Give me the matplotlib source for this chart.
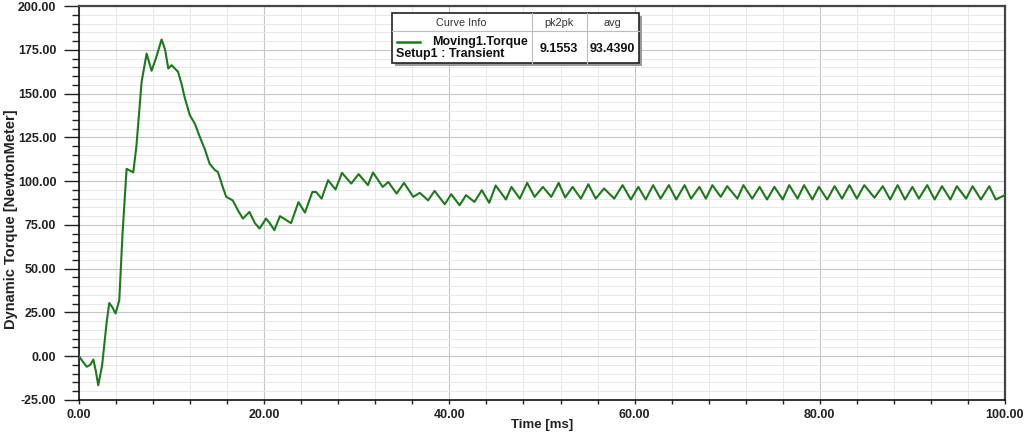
import matplotlib
matplotlib.use("Agg")
import matplotlib.pyplot as plt
from matplotlib.ticker import MultipleLocator, FormatStrFormatter
from matplotlib.patches import Rectangle

plt.rcParams['font.family'] = ['Liberation Sans', 'DejaVu Sans']

# ---- data ----
time_ms = [0.0, 0.4, 0.83, 1.2, 1.55, 1.8, 2.08, 2.5, 3.0, 3.27, 3.6, 3.95, 4.35, 4.7,
           5.14, 5.5, 5.86, 6.2, 6.76, 7.3, 7.84, 8.3, 8.92, 9.3, 9.64, 10.0, 10.7,
           11.1, 11.4, 11.97, 12.5, 13.05, 13.6, 14.1, 14.7, 15.0, 15.5, 15.9, 16.6,
           17.2, 17.7, 18.4, 19.0, 19.5, 20.2, 20.6, 21.1, 21.7, 22.9, 23.7, 24.4,
           25.2, 25.6, 26.2, 26.9, 27.7, 28.4, 29.4, 30.2, 31.2, 31.75, 32.8, 33.4,
           34.3, 35.1, 36.1, 36.8, 37.7, 38.4, 39.5, 40.2, 41.1, 41.8, 42.7, 43.5,
           44.3, 45.0, 46.1, 46.7, 47.6, 48.4, 49.2, 50.1, 51.0, 51.8, 52.5, 53.3,
           54.2, 55.0, 55.8, 56.7, 57.8, 58.7, 59.6, 60.4, 61.2, 62.0, 62.8, 63.7,
           64.5, 65.4, 66.1, 67.0, 67.7, 68.4, 69.3, 70.0, 71.1, 71.75, 72.7, 73.5,
           74.3, 75.1, 76.0, 76.7, 77.6, 78.3, 79.2, 79.9, 80.8, 81.6, 82.4, 83.2,
           84.0, 84.8, 85.9, 86.8, 87.6, 88.4, 89.2, 90.0, 90.7, 91.6, 92.4, 93.2,
           94.1, 94.8, 95.8, 96.5, 97.4, 98.3, 99.0, 100.0]
torque_nm = [0.0, -3.0, -6.0, -5.0, -1.9, -8.0, -16.6, -5.0, 20.0, 30.4, 28.0, 24.4, 32.0, 70.0,
             107.0, 106.0, 105.0, 120.0, 156.6, 172.8, 163.0, 170.0, 180.9, 175.0, 164.3, 166.2, 162.4,
             155.0, 148.0, 137.6, 132.9, 125.2, 118.0, 110.0, 106.2, 105.3, 97.0, 91.0, 89.0,
             83.0, 78.6, 82.4, 76.0, 72.9, 78.6, 76.0, 72.0, 80.0, 76.0, 88.0, 82.0,
             93.8, 93.8, 90.0, 100.5, 95.2, 104.7, 98.6, 104.0, 97.7, 104.9, 96.7, 99.5,
             92.9, 99.0, 91.0, 93.3, 89.0, 94.4, 86.8, 92.5, 86.2, 92.0, 88.1, 94.8,
             87.6, 97.5, 89.5, 96.7, 90.0, 99.0, 91.0, 96.7, 91.0, 99.0, 90.6, 96.7,
             90.0, 98.2, 90.0, 95.8, 90.0, 97.7, 89.5, 96.7, 89.5, 97.7, 90.0, 97.7,
             89.5, 97.7, 90.0, 96.7, 90.0, 97.7, 91.0, 97.1, 90.0, 97.7, 90.0, 96.7,
             89.5, 96.7, 89.5, 97.7, 90.0, 97.7, 89.5, 96.7, 89.5, 97.1, 90.0, 97.7,
             90.0, 97.7, 90.5, 97.1, 89.5, 97.7, 89.5, 96.7, 90.0, 97.7, 89.5, 97.1,
             89.5, 97.1, 90.0, 97.1, 89.5, 97.1, 89.5, 92.0]

series_name = "Moving1.Torque"
series_setup = "Setup1 : Transient"
table_headers = ["Curve Info", "pk2pk", "avg"]
table_values = ["9.1553", "93.4390"]

x_label = "Time [ms]"
y_label = "Dynamic Torque [NewtonMeter]"

W, H = 1024, 437
fig = plt.figure(figsize=(W / 100, H / 100), dpi=100)
fig.patch.set_facecolor('white')

L, R, T, B = 79, 1005, 6, 400
ax = fig.add_axes([L / W, 1 - B / H, (R - L) / W, (B - T) / H])

line_color = '#1c7a1c'
ax.plot(time_ms, torque_nm, color=line_color, lw=1.5, zorder=3)

ax.set_xlim(0, 100)
ax.set_ylim(-25, 200)
ax.xaxis.set_major_locator(MultipleLocator(20))
ax.xaxis.set_minor_locator(MultipleLocator(4))
ax.yaxis.set_major_locator(MultipleLocator(25))
ax.yaxis.set_minor_locator(MultipleLocator(5))
ax.xaxis.set_major_formatter(FormatStrFormatter('%.2f'))
ax.yaxis.set_major_formatter(FormatStrFormatter('%.2f'))

ax.grid(which='major', color='#c6c6c6', lw=0.8, zorder=0)
ax.grid(which='minor', color='#e8e8e8', lw=0.7, zorder=0)
ax.set_axisbelow(True)

ax.tick_params(axis='y', which='major', length=10.8, width=1.0, pad=5.5, direction='out',
               labelsize=9, color='#222222')
ax.tick_params(axis='y', which='minor', length=5, width=1.0, direction='out', color='#222222')
ax.tick_params(axis='x', which='major', length=3, width=1.0, pad=3.5, direction='out',
               labelsize=9, color='#222222')
ax.tick_params(axis='x', which='minor', length=3, width=1.0, direction='out', color='#222222')
for lab in ax.get_xticklabels() + ax.get_yticklabels():
    lab.set_fontweight('bold')
    lab.set_color('#222222')

for s in ['left', 'bottom']:
    ax.spines[s].set_color('#111111')
    ax.spines[s].set_linewidth(1.2)
for s in ['top', 'right']:
    ax.spines[s].set_color('#444444')
    ax.spines[s].set_linewidth(1.6)

ax.set_xlabel(x_label, fontsize=9.5, fontweight='bold', color='#222222')
ax.xaxis.set_label_coords(0.5, (B - 419) / (B - T))
ax.set_ylabel(y_label, fontsize=10.5, fontweight='bold', color='#222222')
ax.yaxis.set_label_coords((18 - L) / (R - L), (B - 219) / (B - T))

# ---- overlay for the info table (pixel coords) ----
ov = fig.add_axes([0, 0, 1, 1], zorder=10)
ov.set_xlim(0, W)
ov.set_ylim(H, 0)
ov.axis('off')

bx0, by0, bx1, by1 = 392, 13, 639, 63
ov.add_patch(Rectangle((bx0 + 3, by0 + 3), bx1 - bx0, by1 - by0, facecolor='#9a9a9a',
                       edgecolor='none'))
ov.add_patch(Rectangle((bx0, by0), bx1 - bx0, by1 - by0, facecolor='white',
                       edgecolor='#222222', lw=1.2))
ov.plot([bx0, bx1], [30.5, 30.5], color='#bdbdbd', lw=0.8)
ov.plot([531.5, 531.5], [by0, by1], color='#bdbdbd', lw=0.8)
ov.plot([586.5, 586.5], [by0, by1], color='#bdbdbd', lw=0.8)

ov.text(461.5, 22.5, table_headers[0], ha='center', va='center', fontsize=7.8, color='#333333')
ov.text(559, 22.5, table_headers[1], ha='center', va='center', fontsize=7.8, color='#333333')
ov.text(612.5, 22.5, table_headers[2], ha='center', va='center', fontsize=7.8, color='#333333')

ov.plot([397, 420], [41.5, 41.5], color=line_color, lw=1.8)
ov.text(528, 41.5, series_name, ha='right', va='center', fontsize=9, fontweight='bold',
        color='#111111')
ov.text(396, 54.5, series_setup, ha='left', va='center', fontsize=9, fontweight='bold',
        color='#111111')
ov.text(559, 48.5, table_values[0], ha='center', va='center', fontsize=9, fontweight='bold',
        color='#111111')
ov.text(612.5, 48.5, table_values[1], ha='center', va='center', fontsize=9, fontweight='bold',
        color='#111111')

fig.savefig('out.png', dpi=100, facecolor='white')
